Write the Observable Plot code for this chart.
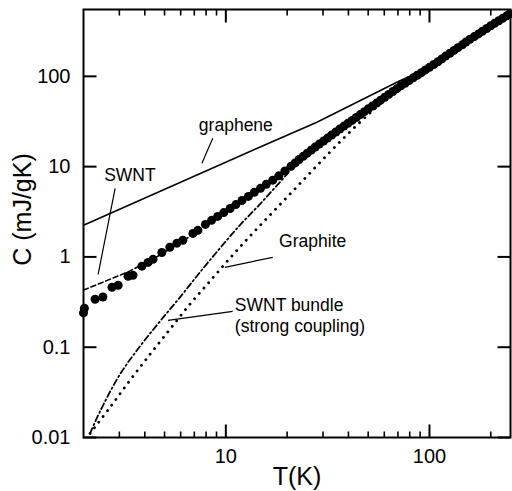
<!DOCTYPE html>
<html><head><meta charset="utf-8">
<script src="https://cdn.jsdelivr.net/npm/d3@7"></script>
<script src="https://cdn.jsdelivr.net/npm/@observablehq/plot@0.6"></script>
<style>body{margin:0;background:#fff}</style>
</head><body><div id="chart"></div>
<script>
// Measured SWNT data (dots)
const dotsT = [2.0, 2.02, 2.28, 2.49, 2.76, 2.96, 3.31, 3.50, 3.87, 4.15, 4.39, 4.85, 5.31, 5.75, 6.15, 6.89, 7.29, 7.94, 8.51, 9.12, 9.77, 10.5, 11.2, 12.0, 12.9, 13.8, 14.8, 15.8, 17.0, 18.2, 19.5, 20.9, 21.9, 22.9, 24.0, 25.1, 26.3, 27.5, 28.8, 30.2, 31.6, 33.1, 34.7, 36.3, 38.0, 39.8, 41.7, 43.7, 45.7, 47.9, 50.1, 52.5, 55.0, 57.5, 60.3, 63.1, 66.1, 69.2, 72.4, 75.9, 79.4, 83.2, 87.1, 91.2, 95.5, 100, 105, 110, 115, 120, 126, 132, 138, 145, 151, 158, 166, 174, 182, 191, 200, 209, 219, 229, 240, 248];
const dotsC = [0.24, 0.27, 0.34, 0.36, 0.46, 0.485, 0.61, 0.625, 0.79, 0.87, 0.94, 1.12, 1.28, 1.42, 1.53, 1.82, 1.97, 2.29, 2.54, 2.81, 3.10, 3.44, 3.80, 4.22, 4.68, 5.19, 5.75, 6.38, 7.08, 7.91, 8.95, 10.1, 11.0, 12.0, 13.0, 14.1, 15.3, 16.5, 17.8, 19.2, 20.7, 22.4, 24.2, 26.1, 28.1, 30.2, 32.5, 35.0, 37.7, 40.6, 43.7, 47.0, 50.6, 54.5, 58.6, 63.1, 67.9, 73.1, 78.5, 83.9, 89.8, 96.2, 102.8, 109.9, 117.8, 125.9, 135.2, 145.2, 156.0, 167.5, 180.3, 193.6, 208.0, 223.4, 239.9, 257.0, 275.4, 295.1, 316.2, 338.8, 363.1, 387.3, 413.0, 440.6, 469.9, 493.2];

// Model curves
const grapheneT = [2, 14, 28, 45, 72, 80];
const grapheneC = [2.24, 15.7, 31, 53, 90, 100];
const swntT = [2.0, 2.36, 3.3, 4.4, 6, 8, 12, 20, 40, 100, 250];
const swntC = [0.43, 0.50, 0.68, 0.95, 1.45, 2.2, 4.1, 9.4, 30.5, 126, 500];
const graphiteT = [2.154, 2.70, 3.383, 4.242, 5.314, 6.661, 8.348, 10.46, 13.11, 16.43, 20.59, 25.81, 32.35, 40.54, 50.81, 63.68, 100, 150, 250];
const graphiteC = [0.0111, 0.0216, 0.0430, 0.0834, 0.158, 0.299, 0.537, 0.965, 1.691, 2.888, 4.934, 8.43, 14.40, 23.98, 38.94, 60.03, 124, 222, 495];
const bundleT = [2.154, 2.412, 3.022, 3.788, 4.748, 5.951, 7.457, 9.345, 11.71, 14.68, 18.40, 23.0, 30, 60, 100, 250];
const bundleC = [0.0111, 0.0195, 0.0501, 0.1023, 0.1935, 0.357, 0.675, 1.245, 2.239, 3.824, 6.70, 11.7, 19.5, 58, 125, 495];

// Annotations
const labelText = ["graphene", "SWNT", "Graphite", "SWNT bundle", "(strong coupling)"];
const labelT = [11.2, 3.38, 26.7, 11.07, 11.07];
const labelC = [28.7, 8.01, 1.49, 0.291, 0.1704];
const labelAnchor = ["middle", "middle", "middle", "start", "start"];
const leaderT1 = [8.63, 2.86, 9.89, 5.20];
const leaderC1 = [20.6, 5.75, 0.767, 0.1986];
const leaderT2 = [7.63, 2.36, 17.0, 10.8];
const leaderC2 = [10.9, 0.642, 0.99, 0.25];

// Axes
const xDomain = [2, 250];
const yDomain = [0.01, 550];
const xMajorTicks = [10, 100];
const xTickLabels = ["10", "100"];
const xMinorTicks = [3, 4, 5, 6, 7, 8, 9, 20, 30, 40, 50, 60, 70, 80, 90, 200];
const yTicks = [0.01, 0.1, 1, 10, 100];
const yTickLabels = ["0.01", "0.1", "1", "10", "100"];
const xTitle = "T(K)";
const yTitle = "C (mJ/gK)";

const pts = (T, C) => T.map((t, i) => ({T: t, C: C[i]}));
const labels = labelText.map((s, i) => ({text: s, T: labelT[i], C: labelC[i], anchor: labelAnchor[i]}));
const leaders = leaderT1.map((t, i) => ({T1: t, C1: leaderC1[i], T2: leaderT2[i], C2: leaderC2[i]}));
const font = "'Liberation Sans', Arial, Helvetica, sans-serif";

const W = 512, H = 491, mL = 83, mR = 2, mT = 9, mB = 54;
const MAJ = 13, MIN = 6;

// Same scales as the plot, used to turn tick lengths (px) into data extents
const xs = Plot.scale({x: {type: "log", domain: xDomain, range: [mL, W - mR]}});
const ys = Plot.scale({y: {type: "log", domain: yDomain, range: [H - mB, mT]}});
const yBottom = yDomain[0], yTop = yDomain[1], xLeft = xDomain[0], xRight = xDomain[1];
const xTickSegs = (ticks, len) => ticks.flatMap(t => [
  {x1: t, x2: t, y1: yBottom, y2: ys.invert(H - mB - len)},
  {x1: t, x2: t, y1: yTop, y2: ys.invert(mT + len)}
]);
const yTickSegs = (ticks, len) => ticks.flatMap(v => [
  {x1: xLeft, x2: xs.invert(mL + len), y1: v, y2: v},
  {x1: xRight, x2: xs.invert(W - mR - len), y1: v, y2: v}
]);

const chart = Plot.plot({
  width: W, height: H,
  marginLeft: mL, marginRight: mR, marginTop: mT, marginBottom: mB,
  style: {fontFamily: font, background: "white"},
  x: {type: "log", domain: xDomain, axis: null},
  y: {type: "log", domain: yDomain, axis: null},
  marks: [
    // curves
    Plot.line(pts(grapheneT, grapheneC), {x: "T", y: "C", stroke: "black", strokeWidth: 1.5}),
    Plot.line(pts(swntT, swntC), {x: "T", y: "C", stroke: "black", strokeWidth: 1.6, strokeDasharray: "5,3"}),
    Plot.line(pts(graphiteT, graphiteC), {x: "T", y: "C", stroke: "black", strokeWidth: 2.8, strokeDasharray: "0.1,7", strokeLinecap: "round", curve: "catmull-rom"}),
    Plot.line(pts(bundleT, bundleC), {x: "T", y: "C", stroke: "black", strokeWidth: 1.8, strokeDasharray: "6,3,1.5,3", curve: "catmull-rom"}),
    Plot.dot(pts(dotsT, dotsC), {x: "T", y: "C", r: 4.5, fill: "black", stroke: "none"}),
    Plot.link(leaders, {x1: "T1", y1: "C1", x2: "T2", y2: "C2", stroke: "black", strokeWidth: 1.2}),
    Plot.text(labels.filter(d => d.anchor === "middle"), {x: "T", y: "C", text: "text", textAnchor: "middle", fontSize: 17.5, fill: "black"}),
    Plot.text(labels.filter(d => d.anchor === "start"), {x: "T", y: "C", text: "text", textAnchor: "start", fontSize: 17.5, fill: "black"}),
    // tick labels
    Plot.axisX({anchor: "bottom", ticks: xMajorTicks, tickSize: 0, tickPadding: 11, label: null, fontSize: 20, tickFormat: d => xTickLabels[xMajorTicks.indexOf(d)]}),
    Plot.axisY({anchor: "left", ticks: yTicks, tickSize: 0, tickPadding: 13, label: null, fontSize: 20, tickFormat: d => yTickLabels[yTicks.indexOf(d)]}),
    // inward tick marks (top/bottom/left/right)
    Plot.link(xTickSegs(xMajorTicks, MAJ), {x1: "x1", x2: "x2", y1: "y1", y2: "y2", stroke: "black", strokeWidth: 2}),
    Plot.link(xTickSegs(xMinorTicks, MIN), {x1: "x1", x2: "x2", y1: "y1", y2: "y2", stroke: "black", strokeWidth: 1.6}),
    Plot.link(yTickSegs(yTicks, MAJ), {x1: "x1", x2: "x2", y1: "y1", y2: "y2", stroke: "black", strokeWidth: 2}),
    Plot.frame({stroke: "black", strokeWidth: 2}),
    Plot.text([xTitle], {frameAnchor: "bottom", dy: 39, textAnchor: "middle", lineAnchor: "middle", fontSize: 25, fill: "black"}),
    Plot.text([yTitle], {frameAnchor: "left", dx: -61, dy: -14, textAnchor: "middle", lineAnchor: "middle", rotate: -90, fontSize: 25, fill: "black"})
  ]
});
document.getElementById("chart").appendChild(chart);
</script>
</body></html>
